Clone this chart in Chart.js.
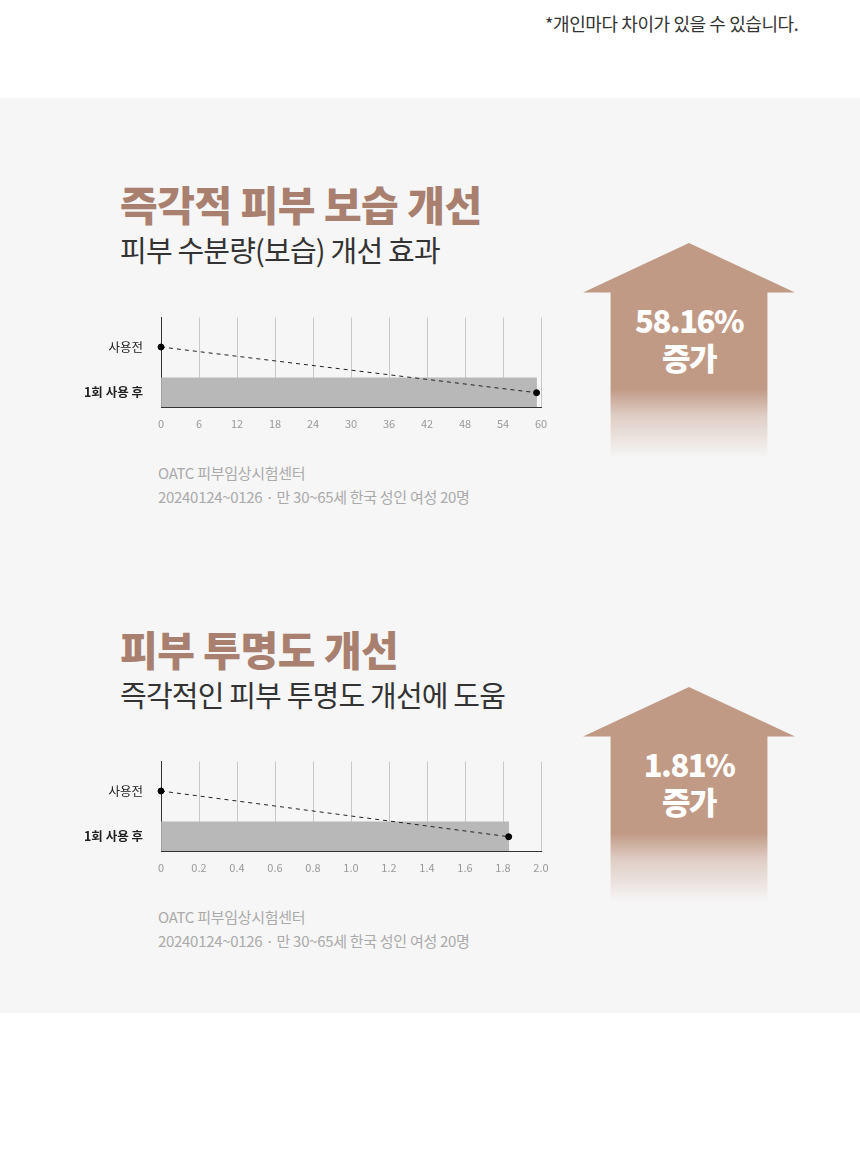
<!DOCTYPE html>
<html><head><meta charset="utf-8">
<script src="https://cdn.jsdelivr.net/npm/chart.js@4"></script>
<style>
body{margin:0;width:860px;height:1155px;background:#fff;font-family:"Noto Sans CJK KR","Noto Sans",sans-serif;position:relative;overflow:hidden}
.abs{position:absolute;white-space:nowrap}
.gray{position:absolute;left:0;top:98px;width:860px;height:915px;background:#f6f6f6}
.title{font-size:41px;font-weight:900;color:#a9806f;letter-spacing:-0.5px;line-height:50px}
.sub{font-size:29px;color:#333;font-weight:400;letter-spacing:-0.8px;line-height:36px}
.src{font-size:15px;color:#aaa;line-height:24px;letter-spacing:-0.3px}
.arrow{position:absolute;width:212px;height:215px;background:linear-gradient(to bottom,#c19a86 0,#c19a86 68%,rgba(193,154,134,0.45) 80%,rgba(246,246,246,0) 100%);clip-path:polygon(50% 0,100% 23%,87% 23%,87% 100%,13% 100%,13% 23%,0 23%)}
.big{color:#fff;font-weight:900;text-align:center;width:212px;font-size:31px;line-height:34px;letter-spacing:-1.5px}
</style></head><body>
<div class="abs" style="left:545px;top:10px;font-size:18px;color:#333;letter-spacing:-0.4px">*개인마다 차이가 있을 수 있습니다.</div>
<div class="gray"></div>

<div class="abs title" style="left:120px;top:178px">즉각적 피부 보습 개선</div>
<div class="abs sub" style="left:120px;top:231px">피부 수분량(보습) 개선 효과</div>
<div class="abs" style="left:80px;top:300px;width:480px;height:140px"><canvas id="c1"></canvas></div>
<div class="abs src" style="left:158px;top:461px">OATC 피부임상시험센터<br>20240124~0126 · 만 30~65세 한국 성인 여성 20명</div>
<div class="arrow" style="left:583px;top:243px"></div>
<div class="abs big" style="left:583px;top:303px">58.16%</div>
<div class="abs big" style="left:583px;top:340px">증가</div>

<div class="abs title" style="left:120px;top:623px">피부 투명도 개선</div>
<div class="abs sub" style="left:120px;top:676px">즉각적인 피부 투명도 개선에 도움</div>
<div class="abs" style="left:80px;top:744px;width:480px;height:140px"><canvas id="c2"></canvas></div>
<div class="abs src" style="left:158px;top:905px">OATC 피부임상시험센터<br>20240124~0126 · 만 30~65세 한국 성인 여성 20명</div>
<div class="arrow" style="left:583px;top:687px"></div>
<div class="big abs" style="left:583px;top:747px">1.81%</div>
<div class="big abs" style="left:583px;top:784px">증가</div>

<script>
const categories = ['사용전', '1회 사용 후'];
const chart1Before = 0;
const chart1After = 59.3;
const chart1Ticks = [0, 6, 12, 18, 24, 30, 36, 42, 48, 54, 60];
const chart2Before = 0;
const chart2After = 1.83;
const chart2Ticks = [0, 0.2, 0.4, 0.6, 0.8, 1.0, 1.2, 1.4, 1.6, 1.8, 2.0];
const ROW = [31, 79];

function make(id, before, after, ticks, fmt){
  new Chart(document.getElementById(id), {
    type:'bar',
    data:{datasets:[
      {type:'line', data:[{x:before,y:ROW[0]},{x:after,y:ROW[1]}], borderColor:'#222', borderWidth:1, borderDash:[4,4],
        pointRadius:3, pointBackgroundColor:'#000', pointBorderColor:'#000', order:0, clip:false},
      {data:[{x:after,y:ROW[1]}], backgroundColor:'#b8b8b8', barThickness:30, order:1}
    ]},
    options:{
      indexAxis:'y', responsive:true, maintainAspectRatio:false, animation:false,
      layout:{padding:{top:13,right:19,left:0,bottom:0}},
      plugins:{legend:{display:false},tooltip:{enabled:false}},
      scales:{
        x:{type:'linear', min:ticks[0], max:ticks[ticks.length-1], offset:false,
          afterBuildTicks:s=>{s.ticks=ticks.map(v=>({value:v}));},
          afterFit:s=>{s.height=33;},
          grid:{color:'#c8c8c8', drawTicks:false, offset:false}, border:{color:'#333'},
          ticks:{color:'#999', font:{size:11,family:'Noto Sans CJK KR'}, padding:10, callback:v=>fmt(v), maxRotation:0}},
        y:{type:'linear', min:0, max:94, reverse:true, offset:false,
          afterBuildTicks:s=>{s.ticks=ROW.map(v=>({value:v}));},
          afterFit:s=>{s.width=81;},
          grid:{display:false, offset:false}, border:{color:'#333'},
          ticks:{color:'#222', padding:10, callback:(v,i)=>categories[i],
            font:c=>({size:12.5, weight:c.index===1?'bold':'normal', family:'Noto Sans CJK KR'})}}
      }
    }
  });
}
make('c1', chart1Before, chart1After, chart1Ticks, v=>String(v));
make('c2', chart2Before, chart2After, chart2Ticks, v=>v===0?'0':v.toFixed(1));
</script>
</body></html>
